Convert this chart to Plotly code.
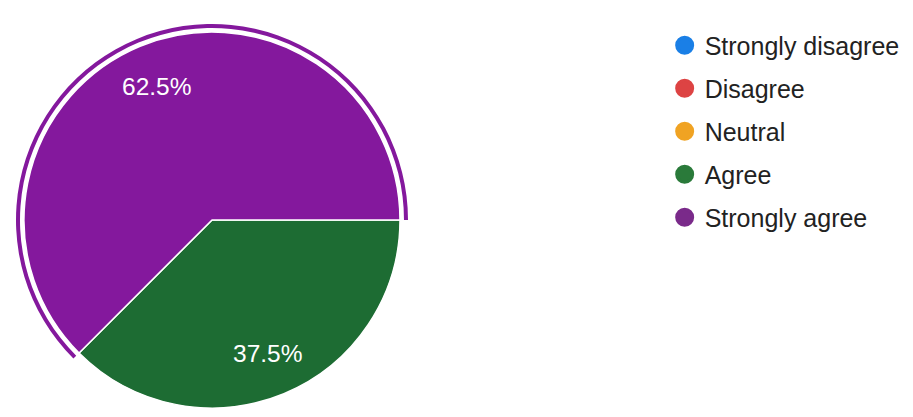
import math
import plotly.graph_objects as go

categories = ["Strongly disagree", "Disagree", "Neutral", "Agree", "Strongly agree"]
values = [0, 0, 0, 3, 5]
colors = ["#1a7fe6", "#dd4343", "#f0a323", "#1d6c33", "#84189d"]
legend_colors = ["#1a7fe6", "#dd4343", "#f0a323", "#2a7a3a", "#7a2a8a"]

W, H = 913, 417
cx, cy, R = 212, 220, 188
ring_outer, ring_inner = 196, 192
start_deg = 90
label_r = 0.77

def dom(r):
    return dict(x=[(cx - r) / W, (cx + r) / W], y=[1 - (cy + r) / H, 1 - (cy - r) / H])

fig = go.Figure()

fig.add_trace(go.Pie(
    labels=categories, values=values, sort=False, direction="clockwise", rotation=start_deg,
    marker=dict(colors=colors, line=dict(color="white", width=1.5)),
    textinfo="none",
    domain=dom(R), showlegend=False, hoverinfo="skip",
))

ring_colors = ["rgba(0,0,0,0)"] * (len(categories) - 1) + [colors[-1]]
fig.add_trace(go.Pie(
    labels=categories, values=values, sort=False, direction="clockwise", rotation=start_deg,
    hole=ring_inner / ring_outer,
    marker=dict(colors=ring_colors, line=dict(width=0)),
    textinfo="none", domain=dom(ring_outer), showlegend=False, hoverinfo="skip",
))

# percentage labels placed along each slice's bisector
total = sum(values)
acc = 0
for v in values:
    if v > 0:
        mid = math.radians(start_deg + 360 * (acc + v / 2) / total)
        px = cx + label_r * R * math.sin(mid)
        py = cy - label_r * R * math.cos(mid)
        fig.add_annotation(
            x=px / W, y=1 - py / H, xref="paper", yref="paper",
            xanchor="center", yanchor="middle",
            text=f"{100 * v / total:.1f}%", showarrow=False,
            font=dict(family="Liberation Sans, Arial", size=24.5, color="white"),
        )
    acc += v

for i, (name, col) in enumerate(zip(categories, legend_colors)):
    fig.add_trace(go.Scatter(
        x=[None], y=[None], mode="markers", name=name, legendgroup=str(i),
        marker=dict(symbol="circle", size=20, color=col, line=dict(color=col, width=3)),
    ))

fig.update_layout(
    width=W, height=H,
    margin=dict(l=0, r=0, t=0, b=0),
    paper_bgcolor="white", plot_bgcolor="white",
    xaxis=dict(visible=False), yaxis=dict(visible=False),
    legend=dict(
        x=0.728, y=0.946, xanchor="left", yanchor="top",
        font=dict(family="Liberation Sans, Arial", size=25, color="#222222"),
        tracegroupgap=7.5, itemsizing="trace",
        bgcolor="rgba(0,0,0,0)",
    ),
)

fig.write_html("out.html", config={"displayModeBar": False},
               post_script="document.body.style.margin='0';")
